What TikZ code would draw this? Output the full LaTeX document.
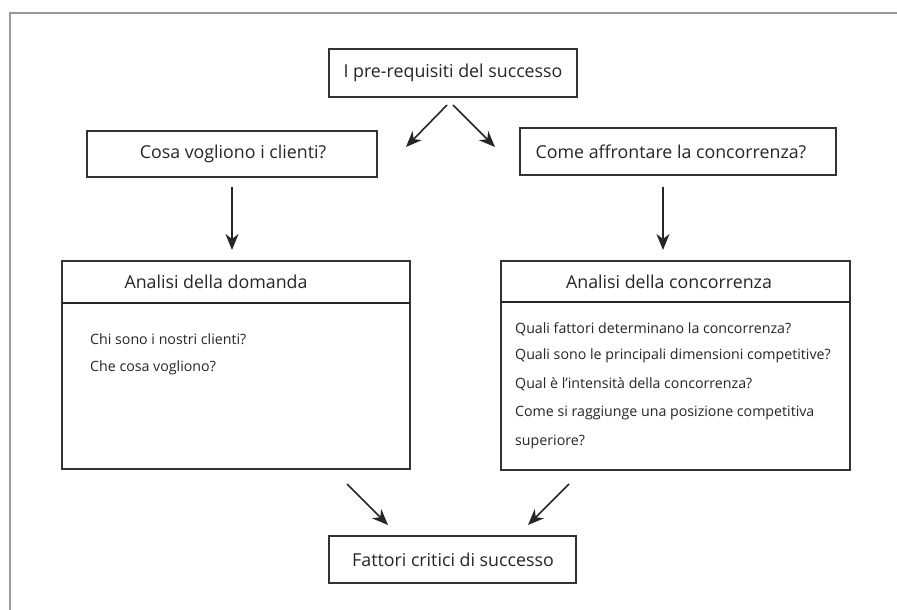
\documentclass[tikz,border=0pt]{standalone}
\usepackage{fontspec}
\setmainfont{Open Sans}
\usetikzlibrary{arrows.meta}
\begin{document}
\begin{tikzpicture}[x=1pt,y=-1pt,
  box/.style={draw=black!80,line width=1.8pt,fill=white},
  lbl/.style={font=\fontsize{17.8}{21}\selectfont,text=black!85,inner sep=0pt},
  small/.style={font=\fontsize{14.2}{17}\selectfont,text=black!85,inner sep=0pt,anchor=west},
  arr/.style={draw=black!85,line width=1.6pt,-{Stealth[length=16pt,width=13pt,inset=5pt]}}]
\useasboundingbox (0,0) rectangle (897,610);
% frame
\draw[black!40,line width=1.6pt] (897,13) -- (10,13) -- (10,610);
% top box
\draw[box] (329,49) rectangle (577,97);
\node[lbl] (top) at (453,73) {I pre-requisiti del successo};
\coordinate (topL) at (447,105);
\coordinate (topR) at (453,105);
\coordinate (tipL) at (406,147);
\coordinate (tipR) at (495,147);
\draw[arr] (topL) -- (tipL);
\draw[arr] (topR) -- (tipR);
% second row
\draw[box] (87,131) rectangle (377,177);
\node[lbl] (cli) at (233,154) {Cosa vogliono i clienti?};
\draw[box] (520,128) rectangle (836,175);
\node[lbl] (conc) at (671,152) {Come affrontare la concorrenza?};
\coordinate (a1) at (232,187);
\coordinate (a1e) at (232,250);
\draw[arr] (a1) -- (a1e);
\coordinate (a2) at (663,187);
\coordinate (a2e) at (663,250);
\draw[arr] (a2) -- (a2e);
% big boxes
\draw[box] (62,261) rectangle (410,469);
\draw[black!85,line width=1.6pt] (62,303) -- (410,303);
\node[lbl] (dom) at (216,282) {Analisi della domanda};
\node[small] (d1) at (90,339) {Chi sono i nostri clienti?};
\node[small] (d2) at (90,368) {Che cosa vogliono?};
\draw[box] (501,261) rectangle (850,470);
\draw[black!85,line width=1.6pt] (501,302) -- (850,302);
\node[lbl] (ac) at (669,282) {Analisi della concorrenza};
\node[small] (c1) at (515,329) {Quali fattori determinano la concorrenza?};
\node[small] (c2) at (515,356) {Quali sono le principali dimensioni competitive?};
\node[small] (c3) at (515,384) {Qual è l’intensità della concorrenza?};
\node[small] (c4) at (515,413) {Come si raggiunge una posizione competitiva};
\node[small] (c5) at (515,442) {superiore?};
% bottom
\draw[box] (329,536) rectangle (576,583);
\node[lbl] (fcs) at (453,560) {Fattori critici di successo};
\coordinate (b1) at (347,484);
\coordinate (b1e) at (388,525);
\coordinate (b2) at (569,484);
\coordinate (b2e) at (528,525);
\draw[arr] (b1) -- (b1e);
\draw[arr] (b2) -- (b2e);
\end{tikzpicture}
\end{document}
